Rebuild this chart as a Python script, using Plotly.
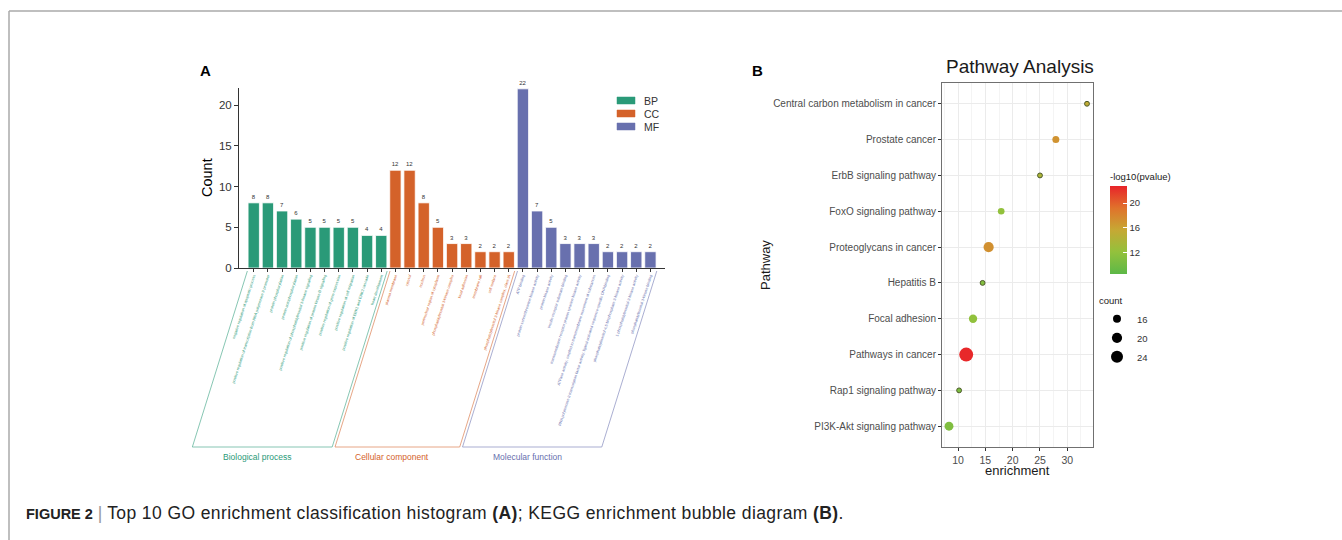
import plotly.graph_objects as go

W, H = 1342, 540

# ---------------- Panel A data ----------------
bp_terms = [
    "negative regulation of apoptotic process",
    "positive regulation of transcription from RNA polymerase II promoter",
    "protein phosphorylation",
    "protein autophosphorylation",
    "positive regulation of phosphatidylinositol 3-kinase signaling",
    "positive regulation of protein kinase B signaling",
    "positive regulation of gene expression",
    "positive regulation of cell migration",
    "positive regulation of ERK1 and ERK2 cascade",
    "heart development",
]
bp_counts = [8, 8, 7, 6, 5, 5, 5, 5, 4, 4]

cc_terms = [
    "plasma membrane",
    "cytosol",
    "nucleus",
    "perinuclear region of cytoplasm",
    "phosphatidylinositol 3-kinase complex",
    "focal adhesion",
    "membrane raft",
    "cell surface",
    "phosphatidylinositol 3-kinase complex, class IA",
]
cc_counts = [12, 12, 8, 5, 3, 3, 2, 2, 2]

mf_terms = [
    "ATP binding",
    "protein serine/threonine kinase activity",
    "protein kinase activity",
    "insulin receptor substrate binding",
    "transmembrane receptor protein tyrosine kinase activity",
    "ATPase activity, coupled to transmembrane movement of substances",
    "RNA polymerase II transcription factor activity, ligand-activated sequence-specific DNA binding",
    "phosphatidylinositol-4,5-bisphosphate 3-kinase activity",
    "1-phosphatidylinositol-3-kinase activity",
    "phosphatidylinositol 3-kinase binding",
]
mf_counts = [22, 7, 5, 3, 3, 3, 2, 2, 2, 2]

group_names = ["BP", "CC", "MF"]
group_titles = ["Biological process", "Cellular component", "Molecular function"]
group_colors = ["#2a9a78", "#d4622a", "#6870ae"]

# ---------------- Panel B data ----------------
pathways = [
    "Central carbon metabolism in cancer",
    "Prostate cancer",
    "ErbB signaling pathway",
    "FoxO signaling pathway",
    "Proteoglycans in cancer",
    "Hepatitis B",
    "Focal adhesion",
    "Pathways in cancer",
    "Rap1 signaling pathway",
    "PI3K-Akt signaling pathway",
]
enrichment = [33.6, 27.9, 25.0, 17.9, 15.6, 14.5, 12.75, 11.5, 10.2, 8.35]
path_count = [12, 14.5, 12, 14, 20, 12, 16.5, 29, 12, 17.5]
neglog10p = [15.2, 17.0, 13.8, 12.0, 17.2, 11.0, 11.9, 22.6, 10.5, 10.8]
count_legend = [16, 20, 24]

# ---------------- layout geometry (pixels) ----------------
def px(x):
    return x / W

def py(y):
    return 1 - y / H

A_x0, A_x1 = 239, 665
A_y0, A_y1 = 268, 88
A_range_x = [-1.04, 29.03]
A_range_y = [0, 22.1]

B_x0, B_x1 = 942, 1093
B_y0, B_y1 = 447, 83

def diam(c):
    return max((-96 + 10 * c), 4) ** 0.5

fig = go.Figure()

# ---------------- Panel A bars ----------------
all_terms = []
start = 0
groups = [(bp_terms, bp_counts), (cc_terms, cc_counts), (mf_terms, mf_counts)]
for gi, (terms, counts) in enumerate(groups):
    xs = list(range(start, start + len(terms)))
    fig.add_trace(go.Bar(
        x=xs, y=counts, name=group_names[gi],
        marker=dict(color=group_colors[gi], line=dict(color="white", width=0.8)),
        width=0.8,
        text=counts, texttemplate="%{text}", textposition="outside",
        textfont=dict(size=6, color="#333333"),
        constraintext="none", cliponaxis=False,
        xaxis="x", yaxis="y", showlegend=False,
    ))
    for t in terms:
        all_terms.append('<span style="color:%s">%s</span>' % (group_colors[gi], t))
    start += len(terms)

# ---------------- Panel B bubbles ----------------
sizes = [diam(c) for c in path_count]
line_w = [1 if s < 6 else 0 for s in sizes]
fig.add_trace(go.Scatter(
    x=enrichment, y=pathways, mode="markers",
    marker=dict(
        size=sizes, color=neglog10p, opacity=1,
        colorscale=[[0, "#5db847"], [0.25, "#93c13c"], [0.5, "#c6a834"],
                    [0.75, "#e0722b"], [1, "#e8242a"]],
        cmin=8.45, cmax=22.8,
        line=dict(color="#4d5a2a", width=line_w),
        colorbar=dict(
            x=px(1110), xanchor="left", y=py(274), yanchor="bottom",
            len=(274 - 170) / H, lenmode="fraction", thickness=17, thicknessmode="pixels",
            outlinewidth=0, ticks="inside", ticklen=4, tickcolor="white",
            tickvals=[12, 16, 20], tickfont=dict(size=9.5, color="#333333"),
            title=dict(text="-log10(pvalue)", side="top",
                       font=dict(size=9.5, color="#222222")),
            xpad=0, ypad=0,
        ),
    ),
    showlegend=False, xaxis="x2", yaxis="y2",
))
for c in count_legend:
    fig.add_trace(go.Scatter(
        x=[None], y=[None], mode="markers", name=str(c),
        marker=dict(size=diam(c), color="black"),
        xaxis="x2", yaxis="y2", legend="legend2",
    ))

# ---------------- shapes: brackets, legend A & frame ----------------
def ax_x(i):
    frac = (i - A_range_x[0]) / (A_range_x[1] - A_range_x[0])
    return px(A_x0 + frac * (A_x1 - A_x0))

shapes = []
annotations = []
top_y, bot_y, off = py(271), py(447), -55 / W
edges = [(-0.45, 9.42), (9.62, 18.42), (18.62, 28.45)]
for gi, (l, r) in enumerate(edges):
    xl, xr = ax_x(l), ax_x(r)
    path = "M %f %f L %f %f L %f %f L %f %f" % (xl, top_y, xl + off, bot_y, xr + off, bot_y, xr, top_y)
    shapes.append(dict(type="path", path=path, xref="paper", yref="paper",
                       line=dict(color=group_colors[gi], width=0.8), opacity=0.7))
    annotations.append(dict(text=group_titles[gi], x=(xl + xr) / 2 + off - px(5), y=py(457),
                            xref="paper", yref="paper", showarrow=False,
                            xanchor="center", yanchor="middle",
                            font=dict(size=8.5, color=group_colors[gi])))

# legend for panel A (manual, compact spacing as in the reference)
for gi, name in enumerate(group_names):
    yc = 100.5 + 13 * gi
    shapes.append(dict(type="rect", xref="paper", yref="paper",
                       x0=px(617), x1=px(635), y0=py(yc - 3.5), y1=py(yc + 3.5),
                       fillcolor=group_colors[gi], line=dict(color=group_colors[gi], width=0.5)))
    annotations.append(dict(text=name, x=px(642), y=py(yc), xref="paper", yref="paper",
                            xanchor="left", yanchor="middle", showarrow=False,
                            font=dict(size=10.5, color="#333333")))

shapes.append(dict(type="line", xref="paper", yref="paper", x0=px(9), x1=1, y0=py(11), y1=py(11),
                   line=dict(color="#aaaaaa", width=1.5)))
shapes.append(dict(type="line", xref="paper", yref="paper", x0=px(9), x1=px(9), y0=py(11), y1=0,
                   line=dict(color="#aaaaaa", width=1.5)))

def ann(text, x, y, size, color="#1a1a1a", angle=0, xanchor="center", family=None):
    f = dict(size=size, color=color)
    if family:
        f["family"] = family
    return dict(text=text, x=px(x), y=py(y), xref="paper", yref="paper", showarrow=False,
                xanchor=xanchor, yanchor="middle", textangle=angle, font=f)

annotations += [
    ann("<b>A</b>", 205, 70, 15, "black"),
    ann("<b>B</b>", 757, 70, 15, "black"),
    ann("Count", 207, 178, 14.5, "black", angle=-90),
    ann("Pathway Analysis", 1020, 66, 19),
    ann("Pathway", 765, 265, 13, angle=-90),
    ann("enrichment", 1017, 470, 13),
    ann('<span style="font-size:14.5px"><b>FIGURE 2</b></span> <span style="color:#999999">|</span> '
        '<span style="letter-spacing:0.4px">Top 10 GO enrichment classification histogram <b>(A)</b>; '
        'KEGG enrichment bubble diagram <b>(B)</b>.</span>',
        24, 513, 17.5, "#222222", xanchor="left", family="Liberation Sans, Arial"),
]

fig.update_layout(
    width=W, height=H,
    margin=dict(l=0, r=0, t=0, b=0, pad=0, autoexpand=False),
    paper_bgcolor="white", plot_bgcolor="white",
    font=dict(family="Liberation Sans, Arial, sans-serif", color="#333333"),
    xaxis=dict(domain=[px(A_x0), px(A_x1)], range=A_range_x, tickmode="array",
               tickvals=list(range(len(all_terms))), ticktext=all_terms, tickangle=-72,
               tickfont=dict(size=3.8), showgrid=False, zeroline=False, automargin=False,
               showline=True, linecolor="#333333", linewidth=1,
               ticks="outside", ticklen=3, tickcolor="#333333", anchor="y"),
    yaxis=dict(domain=[py(A_y0), py(A_y1)], range=A_range_y, tickvals=[0, 5, 10, 15, 20],
               tickfont=dict(size=11.5, color="#333333"), showgrid=False, zeroline=False,
               automargin=False,
               showline=True, linecolor="#333333", linewidth=1,
               ticks="outside", ticklen=4, tickcolor="#333333", anchor="x"),
    xaxis2=dict(domain=[px(B_x0), px(B_x1)], range=[7.07, 34.7], tickvals=[10, 15, 20, 25, 30],
                tickfont=dict(size=10.5, color="#4d4d4d"), showgrid=True, gridcolor="#ebebeb",
                gridwidth=1, zeroline=False, showline=True, mirror=True, linecolor="#707070",
                automargin=False,
                linewidth=1, ticks="outside", ticklen=3, tickcolor="#333333", anchor="y2",
                minor=dict(tick0=7.5, dtick=5, showgrid=True, gridcolor="#f4f4f4", gridwidth=0.6)),
    yaxis2=dict(domain=[py(B_y0), py(B_y1)], type="category", categoryorder="array",
                categoryarray=pathways, range=[9.58, -0.58], automargin=False,
                tickfont=dict(size=10, color="#4d4d4d"), showgrid=True, gridcolor="#ebebeb",
                gridwidth=1, zeroline=False, showline=True, mirror=True, linecolor="#707070",
                linewidth=1, ticks="outside", ticklen=3, tickcolor="#333333", anchor="x2"),
    legend2=dict(x=px(1097), y=py(292), xanchor="left", yanchor="top",
                 title=dict(text="count", font=dict(size=9.5, color="#222222")),
                 font=dict(size=9.5, color="#333333"),
                 bgcolor="rgba(0,0,0,0)", itemsizing="trace", itemwidth=30),
    shapes=shapes, annotations=annotations,
)

fig.write_html("out.html", config={"displayModeBar": False},
               post_script="document.body.style.margin='0';")
